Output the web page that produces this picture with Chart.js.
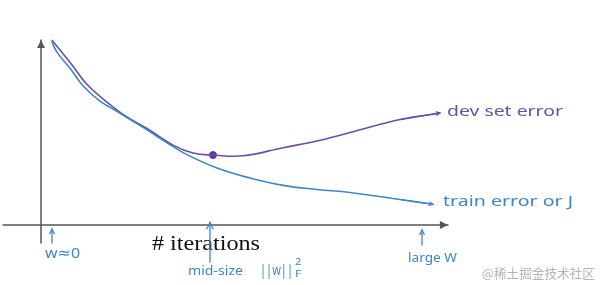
<!DOCTYPE html>
<html>
<head>
<meta charset="utf-8">
<script src="https://cdn.jsdelivr.net/npm/chart.js@4.4.1/dist/chart.umd.min.js"></script>
<style>
  html,body{margin:0;padding:0;background:#fff;}
  #wrap{width:600px;height:285px;position:relative;}
</style>
</head>
<body>
<div id="wrap"><canvas id="c" width="600" height="285"></canvas></div>
<script>
// ---- data (x = iterations, y = error, arbitrary units) ----
const devX   = [2.7, 4.75, 8.1, 11.4, 16.4, 21.4, 26.4, 33, 38, 43, 50.5, 60.5, 69, 77.25, 89.75, 99.75];
const devY   = [100, 94.6, 85.6, 76.2, 66.6, 58.5, 52.3, 43.2, 38.9, 37.8, 37.4, 41.8, 45.4, 50.0, 57.0, 60.5];
const trainX = [2.7, 3.9, 7.25, 10.6, 14.75, 19.75, 26.4, 31.4, 36, 44, 52.25, 60.5, 69, 77.25, 89.75, 98];
const trainY = [99.1, 93.7, 84.7, 75.0, 67.0, 60.4, 51.6, 44.6, 38.6, 30.8, 25.4, 21.4, 19.2, 17.6, 13.8, 11.2];
const markX  = [43];
const markY  = [37.8];
const seriesNames = ["dev set error", "train error or J"];
const xAxisTitle = "# iterations";
const tickNotes = ["w\u22480", "mid-size", "large W"];
const tickNoteX = [2.75, 42.25, 95.25];
const watermark = "@\u7a00\u571f\u6398\u91d1\u6280\u672f\u793e\u533a";

const PURPLE = "#6a4ea8";
const BLUE = "#3f86c8";
const HAND = "'Noto Sans', 'DejaVu Sans', sans-serif";

function toPts(xs, ys){ return xs.map((x,i)=>({x:x, y:ys[i]})); }

function fitText(ctx, text, x, y, width, font, color){
  ctx.save();
  ctx.font = font;
  ctx.fillStyle = color;
  ctx.textBaseline = "middle";
  ctx.textAlign = "left";
  const w = ctx.measureText(text).width;
  ctx.translate(x, y);
  ctx.scale(width / w, 1);
  ctx.fillText(text, 0, 0);
  ctx.restore();
}

function arrowLine(ctx, x1, y1, x2, y2, color, lw, head, filled){
  ctx.save();
  ctx.strokeStyle = color; ctx.fillStyle = color; ctx.lineWidth = lw; ctx.lineCap = "round";
  ctx.beginPath(); ctx.moveTo(x1,y1); ctx.lineTo(x2,y2); ctx.stroke();
  const a = Math.atan2(y2-y1, x2-x1);
  const p1 = [x2 - head*Math.cos(a - 0.45), y2 - head*Math.sin(a - 0.45)];
  const p2 = [x2 - head*Math.cos(a + 0.45), y2 - head*Math.sin(a + 0.45)];
  ctx.beginPath();
  if (filled){
    ctx.moveTo(x2,y2); ctx.lineTo(p1[0],p1[1]); ctx.lineTo(p2[0],p2[1]); ctx.closePath(); ctx.fill();
  } else {
    ctx.moveTo(p1[0],p1[1]); ctx.lineTo(x2,y2); ctx.lineTo(p2[0],p2[1]); ctx.stroke();
  }
  ctx.restore();
}

const sketchPlugin = {
  id: "sketch",
  beforeDatasetsDraw(chart){
    const ctx = chart.ctx, X = chart.scales.x, Y = chart.scales.y;
    const px = v => X.getPixelForValue(v), py = v => Y.getPixelForValue(v);
    // axes
    arrowLine(ctx, px(-9.5), py(0), px(101.75), py(0), "#555", 1.5, 9, true);
    arrowLine(ctx, px(0), py(-9.7), px(0), py(100), "#555", 1.5, 9, true);
  },
  afterDatasetsDraw(chart){
    const ctx = chart.ctx, X = chart.scales.x, Y = chart.scales.y;
    const px = v => X.getPixelForValue(v), py = v => Y.getPixelForValue(v);
    const ux = X.getPixelForValue(1) - X.getPixelForValue(0);
    // series labels with small arrowheads
    arrowLine(ctx, px(devX[devX.length-2]), py(devY[devY.length-2]), px(devX[devX.length-1]), py(devY[devY.length-1]), PURPLE, 1.2, 4, false);
    arrowLine(ctx, px(trainX[trainX.length-2]), py(trainY[trainY.length-2]), px(trainX[trainX.length-1]), py(trainY[trainY.length-1]), BLUE, 1.2, 4, false);
    fitText(ctx, seriesNames[0], px(101.5), py(61), 29*ux, "15px " + HAND, PURPLE);
    fitText(ctx, seriesNames[1], px(100.5), py(12.4), 32.5*ux, "14px " + HAND, BLUE);
    // x axis title
    fitText(ctx, xAxisTitle, px(27.75), py(-10.8), 27*ux, "20px 'Liberation Serif', serif", "#111");
    // notes under axis with arrows
    arrowLine(ctx, px(tickNoteX[0]), py(-9.7), px(tickNoteX[0]), py(-2.2), BLUE, 1.3, 5, false);
    arrowLine(ctx, px(tickNoteX[1]), py(-20), px(tickNoteX[1]), py(1.4), BLUE, 1.3, 7, false);
    arrowLine(ctx, px(tickNoteX[2]), py(-10.8), px(tickNoteX[2]), py(-2.7), BLUE, 1.3, 5, false);
    fitText(ctx, tickNotes[0], px(1), py(-15.7), 8.75*ux, "15px " + HAND, BLUE);
    fitText(ctx, tickNotes[1], px(36.75), py(-25.4), 13.75*ux, "12px " + HAND, BLUE);
    fitText(ctx, "||w||", px(54.75), py(-24.9), 8.25*ux, "15px " + HAND, BLUE);
    fitText(ctx, "2", px(63.5), py(-20.5), 1.6*ux, "9px " + HAND, BLUE);
    fitText(ctx, "F", px(63.5), py(-26.5), 1.6*ux, "9px " + HAND, BLUE);
    fitText(ctx, tickNotes[2], px(91.75), py(-17.8), 12.25*ux, "13px " + HAND, BLUE);
    // watermark
    fitText(ctx, watermark, px(110.25), py(-25.9), 28.25*ux, "13px 'Noto Sans CJK SC', sans-serif", "#b5b5b5");
  }
};

new Chart(document.getElementById("c"), {
  type: "line",
  data: {
    datasets: [
      { label: seriesNames[1], data: toPts(trainX, trainY), borderColor: BLUE, borderWidth: 1.6,
        pointRadius: 0, tension: 0.4, fill: false },
      { label: seriesNames[0], data: toPts(devX, devY), borderColor: PURPLE, borderWidth: 1.6,
        pointRadius: 0, tension: 0.4, fill: false },
      { label: "mark", data: toPts(markX, markY), showLine: false, pointRadius: 3.5,
        pointBackgroundColor: "#5b3a9c", pointBorderColor: "#5b3a9c" }
    ]
  },
  options: {
    responsive: false,
    animation: false,
    layout: { padding: 0, autoPadding: false },
    plugins: { legend: { display: false }, tooltip: { enabled: false } },
    scales: {
      x: { type: "linear", min: -10.25, max: 139.75, display: false },
      y: { type: "linear", min: -32.43, max: 121.62, display: false }
    }
  },
  plugins: [sketchPlugin]
});
</script>
</body>
</html>
